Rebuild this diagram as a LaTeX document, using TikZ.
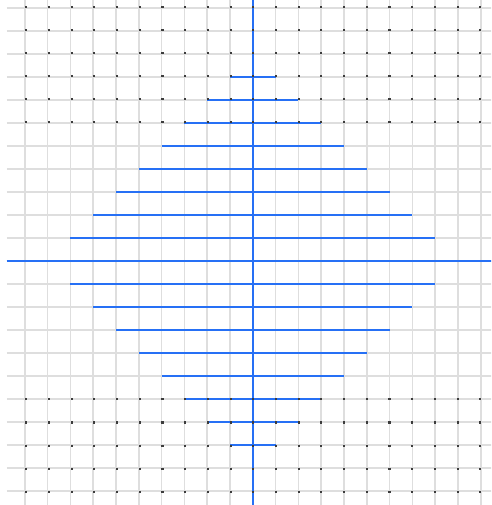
\documentclass[tikz,border=0pt]{standalone}
\definecolor{gridgray}{RGB}{222,222,222}
\definecolor{lineblue}{RGB}{38,112,245}
\definecolor{dotgray}{RGB}{60,60,60}
\tikzset{
  gridline/.style={draw=gridgray, line width=1.6pt},
  blueline/.style={draw=lineblue, line width=1.8pt},
  gdot/.style={fill=dotgray}
}
\begin{document}
\begin{tikzpicture}[x=1pt,y=-1pt]
\useasboundingbox (0,0) rectangle (491,505);
\clip (0,0) rectangle (491,505);
% gray grid
\foreach \j in {0,...,20}
  \draw[gridline] ({24.8+\j*22.8},-5) -- ({24.8+\j*22.8},512);
\foreach \k in {0,...,21}
  \draw[gridline] (6.7,{8.3+\k*22.98}) -- (500,{8.3+\k*22.98});
% blue lines
\draw[blueline] ({24.8+10*22.8},-5) -- ({24.8+10*22.8},512);
\draw[blueline] (6.7,{8.3+11*22.98}) -- (500,{8.3+11*22.98});
\foreach \k in {3,...,10,12,13,...,19}{
  \pgfmathtruncatemacro{\h}{9-abs(\k-11)}
  \draw[blueline] ({24.8+(10-\h)*22.8},{8.3+\k*22.98}) -- ({24.8+(10+\h)*22.8},{8.3+\k*22.98});
}
% dots
\foreach \k in {0,...,5,17,18,...,21}
  \foreach \j in {0,...,20}
    \fill[gdot] ({26.2+\j*22.7-1},{7+\k*23.08-1}) rectangle +(2.1,2.1);
\end{tikzpicture}
\end{document}
